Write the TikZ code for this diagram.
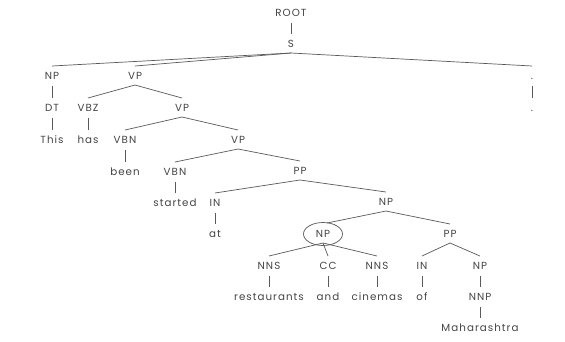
\documentclass[tikz,border=0pt]{standalone}
\usepackage{fontspec}
\setmainfont{Poppins}[LetterSpace=10]
\definecolor{txtc}{HTML}{454545}
\definecolor{linec}{HTML}{5A5A5A}
\tikzset{
  lbl/.style={inner sep=0pt, text height=7pt, text depth=0pt, text=txtc, font=\fontsize{10.3}{12}\selectfont},
  edge/.style={draw=linec, line width=0.7pt},
}
\newcommand\br[2]{\draw[edge] ([yshift=-9pt]#1.center) -- ([yshift=10pt]#2.center);}
\newcommand\un[2]{\draw[edge] ([yshift=-10pt]#1.center) -- ([yshift=10pt]#2.center);}
\begin{document}
\begin{tikzpicture}[x=1pt,y=-1pt]
\useasboundingbox[fill=white] (0,0) rectangle (565,341);
\node[lbl] (root) at (291,13) {ROOT};
\node[lbl] (s) at (291,44) {S};
\node[lbl] (np1) at (52,76) {NP};
\node[lbl] (vp1) at (135,76) {VP};
\node[lbl] (dot1) at (532,76) {.};
\node[lbl] (dt) at (52,108) {DT};
\node[lbl] (vbz) at (88,108) {VBZ};
\node[lbl] (vp2) at (182,108) {VP};
\node[lbl] (dot2) at (532,108) {.};
\node[lbl] (this) at (52,140) {This};
\node[lbl] (has) at (88,140) {has};
\node[lbl] (vbn1) at (125,140) {VBN};
\node[lbl] (vp3) at (238,140) {VP};
\node[lbl] (been) at (125,172) {been};
\node[lbl] (vbn2) at (175,172) {VBN};
\node[lbl] (pp1) at (300,171) {PP};
\node[lbl] (started) at (175,203) {started};
\node[lbl] (in1) at (215,203) {IN};
\node[lbl] (np2) at (386,202) {NP};
\node[lbl] (at) at (215,234) {at};
\node[lbl] (np3) at (323,234) {NP};
\node[lbl] (pp2) at (450,234) {PP};
\node[lbl] (nns1) at (269,266) {NNS};
\node[lbl] (cc) at (328,266) {CC};
\node[lbl] (nns2) at (377,266) {NNS};
\node[lbl] (in2) at (422,266) {IN};
\node[lbl] (np4) at (480,266) {NP};
\node[lbl] (restaurants) at (269,297) {restaurants};
\node[lbl] (and) at (328,297) {and};
\node[lbl] (cinemas) at (377,297) {cinemas};
\node[lbl] (of) at (422,297) {of};
\node[lbl] (nnp) at (480,297) {NNP};
\node[lbl] (maha) at (480,328) {Maharashtra};
\draw[edge] (np3.center) ellipse [x radius=19.5pt, y radius=11.5pt];
\un{root}{s}
\br{s}{np1}\br{s}{vp1}\br{s}{dot1}
\un{np1}{dt}\un{dot1}{dot2}
\br{vp1}{vbz}\br{vp1}{vp2}
\un{dt}{this}\un{vbz}{has}
\br{vp2}{vbn1}\br{vp2}{vp3}
\un{vbn1}{been}
\br{vp3}{vbn2}\br{vp3}{pp1}
\un{vbn2}{started}
\br{pp1}{in1}\br{pp1}{np2}
\un{in1}{at}
\draw[edge] ([yshift=-9pt]np2.center) -- ([xshift=4pt,yshift=11pt]np3.center);
\br{np2}{pp2}
\br{np3}{nns1}\br{np3}{cc}\br{np3}{nns2}
\br{pp2}{in2}\br{pp2}{np4}
\un{nns1}{restaurants}\un{cc}{and}\un{nns2}{cinemas}\un{in2}{of}\un{np4}{nnp}
\un{nnp}{maha}
\end{tikzpicture}
\end{document}
